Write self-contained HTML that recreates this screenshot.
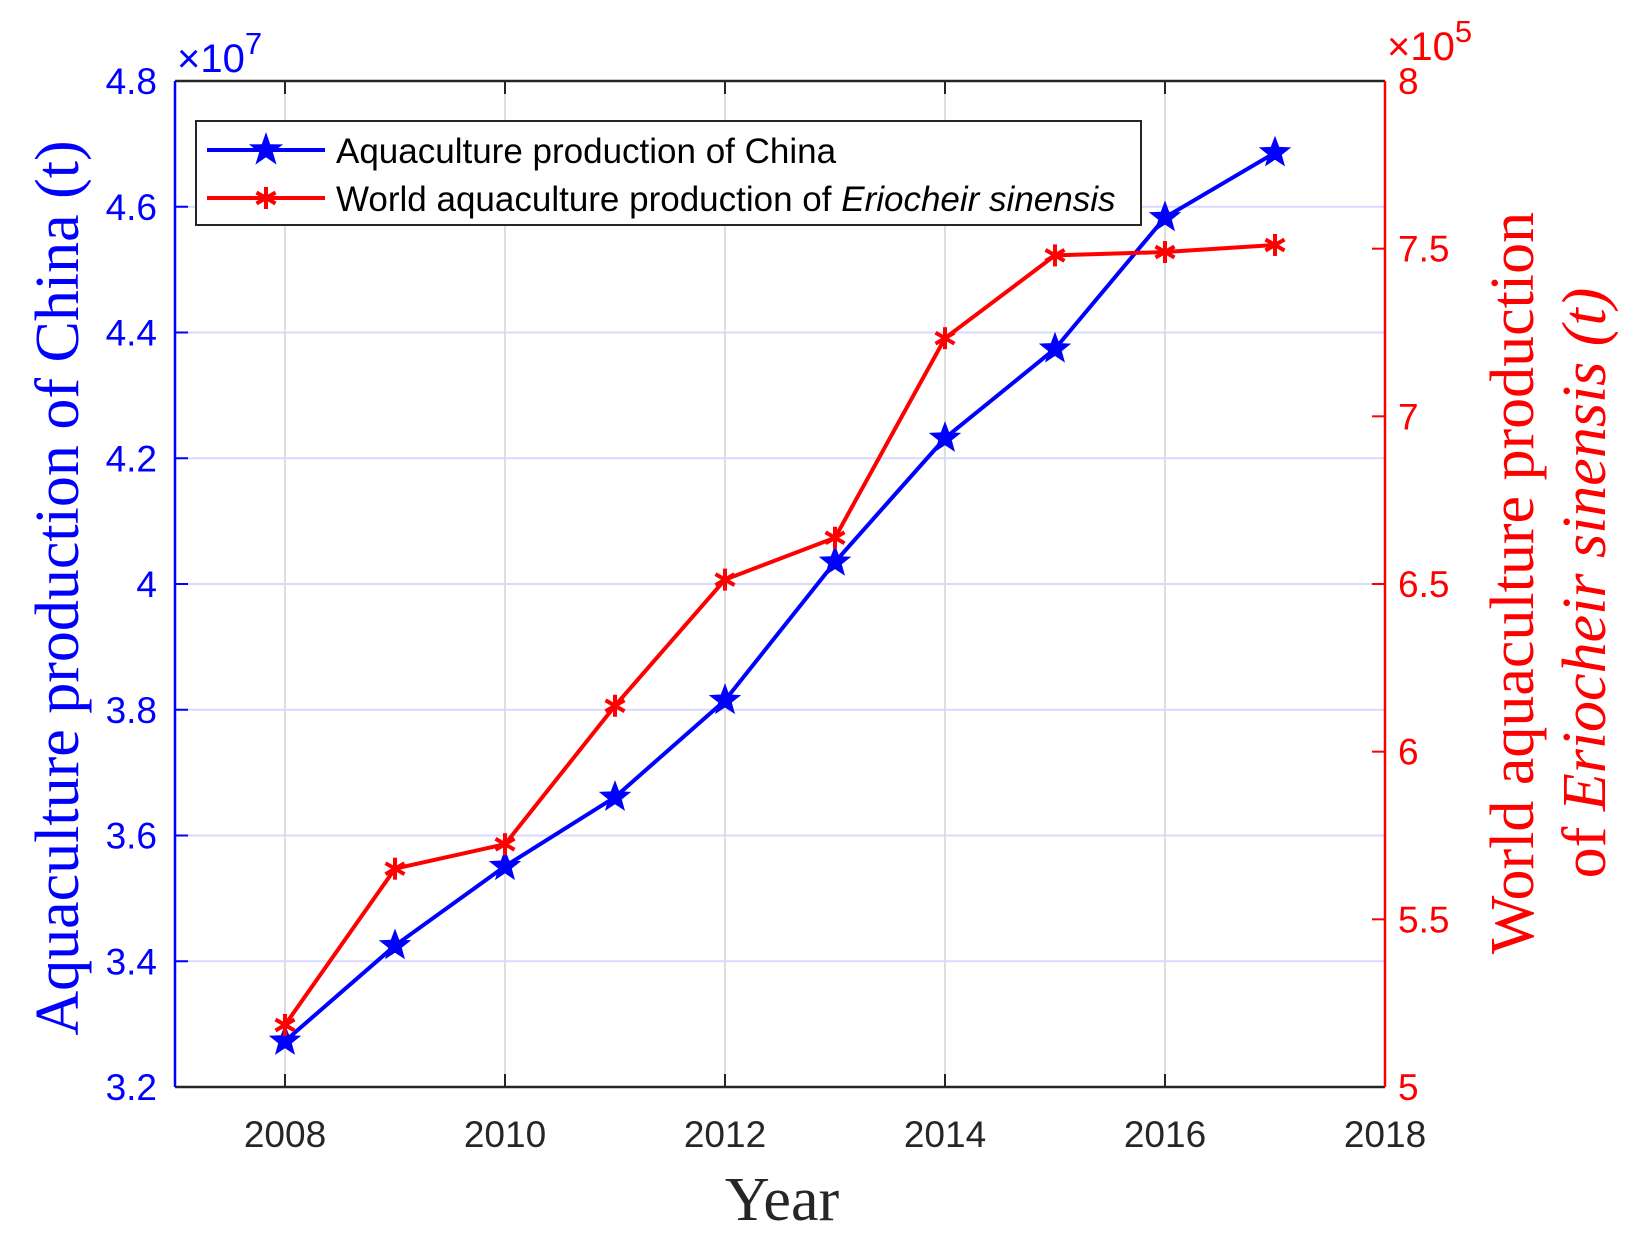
<!DOCTYPE html>
<html><head><meta charset="utf-8"><style>
html,body{margin:0;padding:0;background:#fff;}
svg{display:block;}
</style></head><body>
<svg id="chart" width="1645" height="1242" xmlns="http://www.w3.org/2000/svg" font-family="Liberation Sans, sans-serif">
<g id="grid"></g>
<g id="axes"></g>
<g id="series"></g>
<text x="782" y="1220" font-family="Liberation Serif, serif" font-size="62" fill="#262626" text-anchor="middle">Year</text>
<text transform="translate(78,588) rotate(-90)" font-family="Liberation Serif, serif" font-size="62" fill="#0000ff" text-anchor="middle">Aquaculture production of China (t)</text>
<text transform="translate(1533,583) rotate(-90)" font-family="Liberation Serif, serif" font-size="62" fill="#ff0000" text-anchor="middle">World aquaculture production</text>
<text transform="translate(1605,583) rotate(-90)" font-family="Liberation Serif, serif" font-size="62" fill="#ff0000" text-anchor="middle">of <tspan font-style="italic">Eriocheir sinensis (t)</tspan></text>
<text x="177" y="72" font-size="40" fill="#0000ff">×10<tspan dy="-18" font-size="31">7</tspan></text>
<text x="1387" y="60" font-size="40" fill="#ff0000">×10<tspan dy="-18" font-size="31">5</tspan></text>
<g>
<rect x="196" y="121" width="945" height="104" fill="#fff" stroke="#262626" stroke-width="2"/>
<line x1="207" y1="150" x2="325" y2="150" stroke="#0000ff" stroke-width="4"/>
<polygon points="266,132 270.2,144.2 283.1,144.4 272.8,152.2 276.6,164.6 266,157.2 255.4,164.6 259.2,152.2 248.9,144.4 261.8,144.2" fill="#0000ff"/>
<text x="336" y="163" font-size="35" fill="#000">Aquaculture production of China</text>
<line x1="207" y1="198" x2="325" y2="198" stroke="#ff0000" stroke-width="4"/>
<g stroke="#ff0000" stroke-width="4"><line x1="266" y1="187" x2="266" y2="209"/><line x1="256.5" y1="192.5" x2="275.5" y2="203.5"/><line x1="256.5" y1="203.5" x2="275.5" y2="192.5"/></g>
<text x="336" y="211" font-size="35" fill="#000">World aquaculture production of <tspan font-style="italic">Eriocheir sinensis</tspan></text>
</g>
</svg>
<script>
const years = [2008,2009,2010,2011,2012,2013,2014,2015,2016,2017];
const chinaProd = [3.273,3.425,3.551,3.661,3.815,4.035,4.232,4.374,4.583,4.686]; // x1e7
const eriocheirProd = [5.185,5.651,5.724,6.137,6.513,6.638,7.233,7.480,7.490,7.511]; // x1e5
const xTicks = [2008,2010,2012,2014,2016,2018];
const leftTicks = ["3.2","3.4","3.6","3.8","4","4.2","4.4","4.6","4.8"];
const rightTicks = ["5","5.5","6","6.5","7","7.5","8"];

const L=175,R=1385,T=81,B=1087;
const X0=2007,X1=2018;
const x=v=>L+(v-X0)/(X1-X0)*(R-L);
const yL=v=>B-(v-3.2)/1.6*(B-T);
const yR=v=>B-(v-5)/3*(B-T);
const NS='http://www.w3.org/2000/svg';
function mk(tag,attrs,parent,txt){const e=document.createElementNS(NS,tag);for(const k in attrs)e.setAttribute(k,attrs[k]);if(txt!==undefined)e.textContent=txt;parent.appendChild(e);return e;}
const grid=document.getElementById('grid'),axes=document.getElementById('axes'),series=document.getElementById('series');

xTicks.forEach(t=>{
  const X=x(t);
  if(t<X1){const g=mk('line',{x1:X,y1:T,x2:X,y2:B,stroke:'#dedede','stroke-width':2},grid);
  
  }
  mk('line',{x1:X,y1:B,x2:X,y2:B-13,stroke:'#262626','stroke-width':2},axes);
  mk('line',{x1:X,y1:T,x2:X,y2:T+13,stroke:'#262626','stroke-width':2},axes);
  const tl=mk('text',{x:X,y:1147,'font-size':37,fill:'#262626','text-anchor':'middle'},axes,String(t));
  
  
});
leftTicks.forEach(s=>{
  const Y=yL(parseFloat(s));
  if(Y>T+1&&Y<B-1){const g=mk('line',{x1:L,y1:Y,x2:R,y2:Y,stroke:'#d9d9ff','stroke-width':2},grid);
  
  }
  mk('line',{x1:L,y1:Y,x2:L+13,y2:Y,stroke:'#0000ff','stroke-width':2},axes);
  const tl=mk('text',{x:157,y:Y+13,'font-size':37,fill:'#0000ff','text-anchor':'end'},axes,s);
  
  
});
rightTicks.forEach(s=>{
  const Y=yR(parseFloat(s));
  mk('line',{x1:R,y1:Y,x2:R-13,y2:Y,stroke:'#ff0000','stroke-width':2},axes);
  const tl=mk('text',{x:1398,y:Y+13,'font-size':37,fill:'#ff0000'},axes,s);
  
  
});
mk('line',{x1:L,y1:T,x2:R,y2:T,stroke:'#262626','stroke-width':2.5},axes);
mk('line',{x1:L,y1:B,x2:R,y2:B,stroke:'#262626','stroke-width':2.5},axes);
mk('line',{x1:L,y1:T,x2:L,y2:B,stroke:'#0000ff','stroke-width':2.5},axes);
mk('line',{x1:R,y1:T,x2:R,y2:B,stroke:'#ff0000','stroke-width':2.5},axes);

const pl1=mk('polyline',{points:years.map((v,i)=>x(v)+','+yL(chinaProd[i])).join(' '),fill:'none',stroke:'#0000ff','stroke-width':4},series);


const pl2=mk('polyline',{points:years.map((v,i)=>x(v)+','+yR(eriocheirProd[i])).join(' '),fill:'none',stroke:'#ff0000','stroke-width':4},series);



function star(cx,cy,r){const p=[];for(let k=0;k<10;k++){const a=-Math.PI/2+k*Math.PI/5;const rr=k%2?r*0.42:r;p.push((cx+rr*Math.cos(a)).toFixed(1)+','+(cy+rr*Math.sin(a)).toFixed(1));}return p.join(' ');}
years.forEach((v,i)=>{
  const s=mk('polygon',{points:star(x(v),yL(chinaProd[i]),17),fill:'#0000ff'},series);
  
  
});
years.forEach((v,i)=>{
  const cx=x(v),cy=yR(eriocheirProd[i]);
  const g=mk('g',{stroke:'#ff0000','stroke-width':4},series);
  
  
  mk('line',{x1:cx,y1:cy-11,x2:cx,y2:cy+11},g);
  mk('line',{x1:cx-9.5,y1:cy-5.5,x2:cx+9.5,y2:cy+5.5},g);
  mk('line',{x1:cx-9.5,y1:cy+5.5,x2:cx+9.5,y2:cy-5.5},g);
});
</script>
</body></html>
